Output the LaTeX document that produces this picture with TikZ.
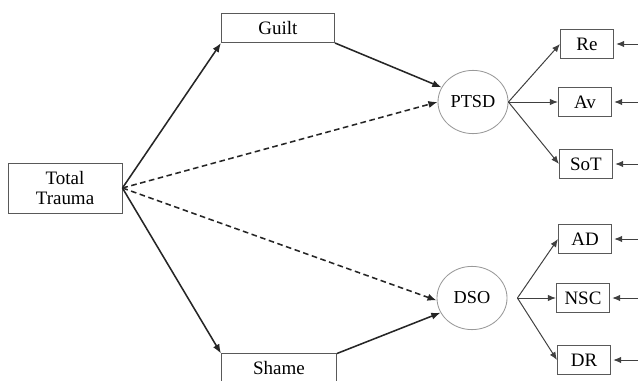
\documentclass[tikz,border=0pt]{standalone}
\usepackage{fontspec}
\setmainfont{Liberation Serif}
\usetikzlibrary{arrows.meta,shapes.geometric,positioning}

\begin{document}
\begin{tikzpicture}[x=0.025cm,y=-0.025cm,
		box/.style={draw=black!65, line width=0.6pt, minimum width=2.83cm, minimum height=0.73cm, inner sep=0pt, font=\fontsize{13.5}{14}\selectfont},
		ind/.style={box, minimum width=1.33cm},
		latent/.style={ellipse, draw=black!40, line width=0.6pt, minimum width=1.75cm, minimum height=1.58cm, inner sep=0pt, font=\fontsize{13}{15}\selectfont},
		regpath/.style={-{Latex[length=2.3mm,width=1.8mm]}, line width=1.1pt, black!85},
		loadpath/.style={-{Latex[length=2mm,width=1.6mm]}, line width=0.7pt, black!75}]
		\useasboundingbox (0,0) rectangle (638,381);

		\node[box, minimum width=2.85cm, minimum height=1.25cm, align=center] (tt) at (65,188) {Total\\Trauma};
		\node[box] (guilt) at (278,28) {Guilt};
		\node[box, minimum width=2.88cm] (shame) at (279,368.5) {Shame};

		\node[latent] (ptsd) at (473,102) {PTSD};
		\node[latent] (dso) at (472,298) {DSO};

		\node[ind] (re) at (587,44) {Re};
		\node[ind] (av) at (585,102) {Av};
		\node[ind] (sot) at (586,164) {SoT};
		\node[ind] (ad) at (585,239) {AD};
		\node[ind] (nsc) at (583,298) {NSC};
		\node[ind] (dr) at (584,360) {DR};

		\draw[regpath] (tt.east) -- (guilt.south west);
		\draw[regpath] (tt.east) -- (shame.north west);
		\draw[regpath, dash pattern=on 4pt off 2.5pt] (tt.east) -- (ptsd.west);
		\draw[regpath, dash pattern=on 4pt off 2.5pt] (tt.east) -- (dso.184);
		\draw[regpath] (guilt.south east) -- (ptsd.155);
		\draw[regpath] (shame.north east) -- (dso.205);

		\draw[loadpath] (ptsd.east) -- (re.west);
		\draw[loadpath] (ptsd.east) -- (av.west);
		\draw[loadpath] (ptsd.east) -- (sot.west);
		\draw[loadpath] ([xshift=0.25cm]dso.east) -- (ad.west);
		\draw[loadpath] ([xshift=0.25cm]dso.east) -- (nsc.west);
		\draw[loadpath] ([xshift=0.25cm]dso.east) -- (dr.west);

		\coordinate (reE) at (645,44);
		\coordinate (avE) at (645,102);
		\coordinate (sotE) at (645,164);
		\coordinate (adE) at (645,239);
		\coordinate (nscE) at (645,298);
		\coordinate (drE) at (645,360);
		\draw[loadpath, shorten >=1.5pt] (reE) -- (re.east);
		\draw[loadpath, shorten >=1.5pt] (avE) -- (av.east);
		\draw[loadpath, shorten >=1.5pt] (sotE) -- (sot.east);
		\draw[loadpath, shorten >=1.5pt] (adE) -- (ad.east);
		\draw[loadpath, shorten >=1.5pt] (nscE) -- (nsc.east);
		\draw[loadpath, shorten >=1.5pt] (drE) -- (dr.east);
	\end{tikzpicture}
\end{document}
